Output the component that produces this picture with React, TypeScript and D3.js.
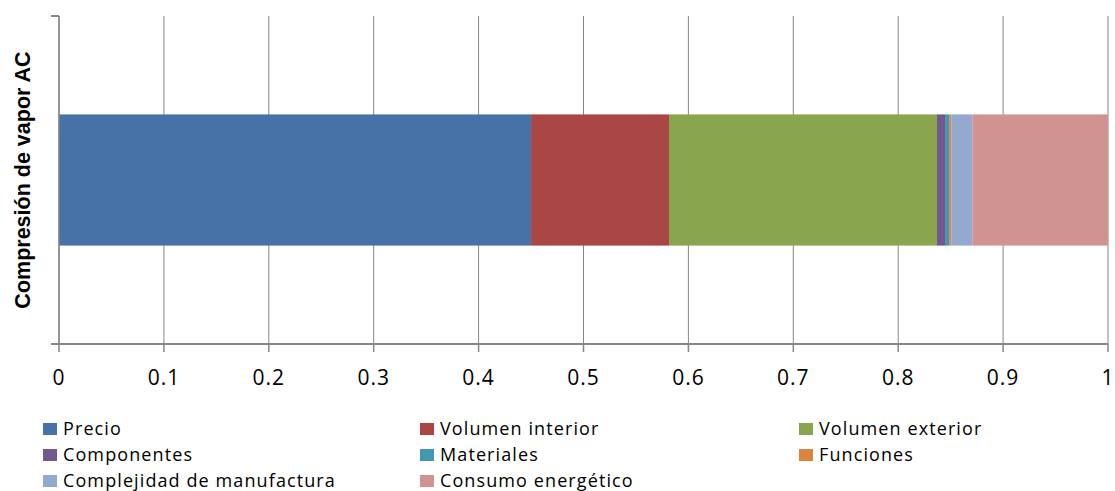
import React from "react";
import * as d3 from "d3";

// Stacked share of each criterion for the single alternative
const categories = ["Compresión de vapor AC"];
const seriesNames = [
  "Precio",
  "Volumen interior",
  "Volumen exterior",
  "Componentes",
  "Materiales",
  "Funciones",
  "Complejidad de manufactura",
  "Consumo energético",
];
const seriesValues = [0.45, 0.1315, 0.2555, 0.0076, 0.004, 0.002, 0.02, 0.1294];
const seriesColors = [
  "#4672A8",
  "#AA4643",
  "#89A54E",
  "#71588F",
  "#4198AF",
  "#DB843D",
  "#93A9CF",
  "#D19392",
];
const xTicks = [0, 0.1, 0.2, 0.3, 0.4, 0.5, 0.6, 0.7, 0.8, 0.9, 1];

const W = 1115;
const H = 491;
const plot = { left: 59, right: 1108, top: 16, bottom: 344 };

export default function App() {
  const x = d3.scaleLinear().domain([0, 1]).range([plot.left, plot.right]);
  const y = d3
    .scaleBand()
    .domain(categories)
    .range([plot.top, plot.bottom])
    .paddingInner(0.6)
    .paddingOuter(0.3);

  const stacked = d3.stack<Record<string, number>>().keys(seriesNames)([
    Object.fromEntries(seriesNames.map((n, i) => [n, seriesValues[i]])),
  ]);

  const cat = categories[0];
  const bandY = y(cat) as number;
  const bandH = y.bandwidth();

  const legendCols = [43, 420, 799];
  const legendRows = [423, 449, 475];

  return (
    <svg
      width={W}
      height={H}
      style={{ position: "absolute", left: 0, top: 0, background: "#fff" }}
    >
      {/* vertical gridlines */}
      {xTicks.map((t) => (
        <line
          key={"g" + t}
          x1={x(t)}
          x2={x(t)}
          y1={plot.top}
          y2={plot.bottom}
          stroke="#868686"
          strokeWidth={1}
        />
      ))}
      {/* bars */}
      {stacked.map((s, i) => (
        <rect
          key={s.key}
          x={x(s[0][0])}
          width={x(s[0][1]) - x(s[0][0])}
          y={bandY}
          height={bandH}
          fill={seriesColors[i]}
        />
      ))}
      {/* left axis */}
      <line x1={plot.left} x2={plot.left} y1={plot.top} y2={plot.bottom} stroke="#868686" strokeWidth={1.5} />
      <line x1={51} x2={plot.left} y1={plot.top} y2={plot.top} stroke="#868686" strokeWidth={2} />
      <line x1={51} x2={plot.left} y1={plot.bottom} y2={plot.bottom} stroke="#868686" strokeWidth={2} />
      {/* bottom axis */}
      <line x1={51} x2={plot.right} y1={plot.bottom} y2={plot.bottom} stroke="#868686" strokeWidth={2} />
      {xTicks.map((t) => (
        <g key={"t" + t}>
          <line x1={x(t)} x2={x(t)} y1={plot.bottom} y2={plot.bottom + 8} stroke="#868686" strokeWidth={1.5} />
          <text
            x={x(t)}
            y={385}
            textAnchor="middle"
            fontFamily="Open Sans, sans-serif"
            fontSize={21}
            letterSpacing={1}
            fill="#000"
          >
            {t}
          </text>
        </g>
      ))}
      {/* category title */}
      <text
        transform={`translate(30,${bandY + bandH / 2}) rotate(-90)`}
        textAnchor="middle"
        fontFamily="Liberation Sans, Arial, sans-serif"
        fontWeight="bold"
        fontSize={21.5}
        fill="#000"
      >
        {cat}
      </text>
      {/* legend */}
      {seriesNames.map((n, i) => {
        const lx = legendCols[i % 3];
        const ly = legendRows[Math.floor(i / 3)];
        return (
          <g key={"l" + n}>
            <rect x={lx} y={ly} width={14} height={12} fill={seriesColors[i]} />
            <text
              x={lx + 20}
              y={ly + 12}
              fontFamily="Open Sans, sans-serif"
              fontSize={18}
              letterSpacing={1.1}
              fill="#000"
            >
              {n}
            </text>
          </g>
        );
      })}
    </svg>
  );
}
